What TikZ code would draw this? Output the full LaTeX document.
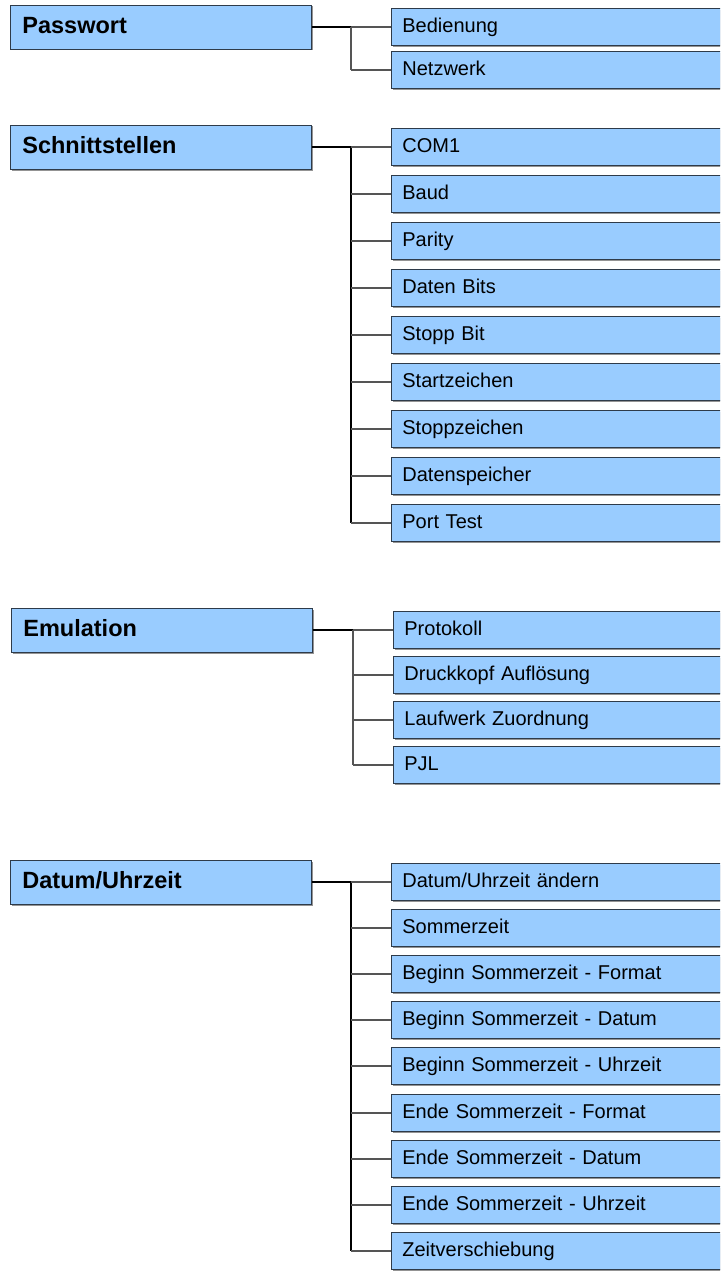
\documentclass[tikz,border=0pt]{standalone}
\usepackage{fontspec}
\setmainfont{Liberation Sans}
\usetikzlibrary{shadows}
\definecolor{boxfill}{HTML}{99CCFF}
\definecolor{boxline}{HTML}{2E3B4A}
\definecolor{stubline}{HTML}{555555}

\begin{document}
\begin{tikzpicture}[x=1pt,y=-1pt,
    parent/.style={anchor=west,draw=boxline,fill=boxfill,line width=0.8pt,
        minimum height=44pt,inner xsep=12pt,text width=277pt,align=left,
        text height=17pt,text depth=4pt,
        font=\fontsize{23.5}{28}\selectfont\bfseries,
        drop shadow={shadow xshift=1.5pt,shadow yshift=-1.5pt,fill=black!60,opacity=0.7}},
    child/.style={anchor=west,draw=boxline,fill=boxfill,line width=0.8pt,
        minimum height=37pt,inner xsep=11pt,text width=400pt,align=left,
        text height=14.5pt,text depth=4pt,
        font=\fontsize{20}{24}\selectfont,
        drop shadow={shadow xshift=1.5pt,shadow yshift=-1.5pt,fill=black!60,opacity=0.7}},
    feed/.style={draw=black,line width=1.5pt},
    trunk/.style={draw=black,line width=2pt},
    softtrunk/.style={draw=stubline,line width=1.5pt},
    stub/.style={draw=stubline,line width=1.2pt}]
            		\useasboundingbox (0,0) rectangle (720,1271);
            		\clip (0,0) rectangle (720,1271);

            		% Passwort
            		\node (pw) at (10,27) [parent] {Passwort};
            		\node (pw1) at (391,27) [child] {Bedienung};
            		\node (pw2) at (391,70) [child] {Netzwerk};
            		\coordinate (pwj) at (351,27);
            		\draw[feed] (pw.east) -- (pwj);
            		\draw[softtrunk] (pwj) -- (pwj |- pw2.west);
            		\draw[stub] (pwj) -- (pw1.west) (pwj |- pw2.west) -- (pw2.west);

            		% Schnittstellen
            		\node (si) at (10,147) [parent] {Schnittstellen};
            		\node (si1) at (391,147) [child] {COM1};
            		\node (si2) at (391,194) [child] {Baud};
            		\node (si3) at (391,241) [child] {Parity};
            		\node (si4) at (391,288) [child] {Daten Bits};
            		\node (si5) at (391,335) [child] {Stopp Bit};
            		\node (si6) at (391,382) [child] {Startzeichen};
            		\node (si7) at (391,429) [child] {Stoppzeichen};
            		\node (si8) at (391,476) [child] {Datenspeicher};
            		\node (si9) at (391,523) [child] {Port Test};
            		\coordinate (sij) at (351,147);
            		\draw[feed] (si.east) -- (sij);
            		\draw[trunk] (sij) -- (sij |- si9.west);
            		\draw[stub] (sij) -- (si1.west) (sij |- si2.west) -- (si2.west)
            		    (sij |- si3.west) -- (si3.west) (sij |- si4.west) -- (si4.west)
            		    (sij |- si5.west) -- (si5.west) (sij |- si6.west) -- (si6.west)
            		    (sij |- si7.west) -- (si7.west) (sij |- si8.west) -- (si8.west)
            		    (sij |- si9.west) -- (si9.west);

            		% Emulation
            		\node (em) at (11,630) [parent] {Emulation};
            		\node (em1) at (393,630) [child] {Protokoll};
            		\node (em2) at (393,675) [child] {Druckkopf Auflösung};
            		\node (em3) at (393,720) [child] {Laufwerk Zuordnung};
            		\node (em4) at (393,765) [child] {PJL};
            		\coordinate (emj) at (353,630);
            		\draw[feed] (em.east) -- (emj);
            		\draw[softtrunk] (emj) -- (emj |- em4.west);
            		\draw[stub] (emj) -- (em1.west) (emj |- em2.west) -- (em2.west)
            		    (emj |- em3.west) -- (em3.west) (emj |- em4.west) -- (em4.west);

            		% Datum/Uhrzeit
            		\node (du) at (10,882) [parent] {Datum/Uhrzeit};
            		\node (du1) at (391,882) [child] {Datum/Uhrzeit ändern};
            		\node (du2) at (391,928) [child] {Sommerzeit};
            		\node (du3) at (391,974) [child] {Beginn Sommerzeit - Format};
            		\node (du4) at (391,1020) [child] {Beginn Sommerzeit - Datum};
            		\node (du5) at (391,1066) [child] {Beginn Sommerzeit - Uhrzeit};
            		\node (du6) at (391,1113) [child] {Ende Sommerzeit - Format};
            		\node (du7) at (391,1159) [child] {Ende Sommerzeit - Datum};
            		\node (du8) at (391,1205) [child] {Ende Sommerzeit - Uhrzeit};
            		\node (du9) at (391,1251) [child] {Zeitverschiebung};
            		\coordinate (duj) at (351,882);
            		\draw[feed] (du.east) -- (duj);
            		\draw[trunk] (duj) -- (duj |- du9.west);
            		\draw[stub] (duj) -- (du1.west) (duj |- du2.west) -- (du2.west)
            		    (duj |- du3.west) -- (du3.west) (duj |- du4.west) -- (du4.west)
            		    (duj |- du5.west) -- (du5.west) (duj |- du6.west) -- (du6.west)
            		    (duj |- du7.west) -- (du7.west) (duj |- du8.west) -- (du8.west)
            		    (duj |- du9.west) -- (du9.west);

        		\end{tikzpicture}
\end{document}
